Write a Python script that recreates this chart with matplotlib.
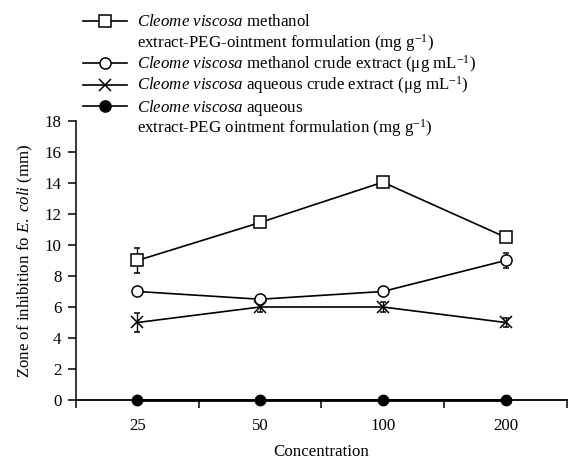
import matplotlib
matplotlib.use("Agg")
import matplotlib.pyplot as plt
from matplotlib.lines import Line2D

plt.rcParams['font.family'] = ['Liberation Serif', 'DejaVu Serif']
plt.rcParams['mathtext.fontset'] = 'custom'
plt.rcParams['mathtext.rm'] = 'Liberation Serif'
plt.rcParams['mathtext.it'] = 'Liberation Serif:italic'
plt.rcParams['font.size'] = 12.2

# data
concentrations = ["25", "50", "100", "200"]
methanol_peg = [9.0, 11.45, 14.05, 10.5]
methanol_peg_err = [0.8, 0.0, 0.0, 0.15]
methanol_crude = [7.0, 6.5, 7.0, 9.0]
methanol_crude_err = [0.0, 0.0, 0.0, 0.5]
aqueous_crude = [5.0, 6.0, 6.0, 5.0]
aqueous_crude_err = [0.6, 0.3, 0.3, 0.3]
aqueous_peg = [0.0, 0.0, 0.0, 0.0]

cv = r"$\it{Cleome\ viscosa}$"
legend_rows = [
    cv + " methanol",
    "extract-PEG-ointment formulation (mg g$^{-1}$)",
    cv + " methanol crude extract (\u03bcg mL$^{-1}$)",
    cv + " aqueous crude extract (\u03bcg mL$^{-1}$)",
    cv + " aqueous",
    "extract-PEG ointment formulation (mg g$^{-1}$)",
]
# marker style per legend row (None = continuation line)
legend_markers = [('s', 'white'), None, ('o', 'white'), ('x', 'black'),
                  ('o', 'black'), None]

W, H = 568, 459
fig = plt.figure(figsize=(W / 100, H / 100), dpi=100)
ax = fig.add_axes([0.134, 0.1285, 0.864, 0.608])
x = list(range(len(concentrations)))

common = dict(color='black', linewidth=1.2, capsize=2.5, elinewidth=1.0,
              markersize=8, markeredgewidth=1.1, clip_on=False)
ax.errorbar(x, methanol_peg, yerr=methanol_peg_err, marker='s',
            markerfacecolor='white', **common)
ax.errorbar(x, methanol_crude, yerr=methanol_crude_err, marker='o',
            markerfacecolor='white', **common)
ax.errorbar(x, aqueous_crude, yerr=aqueous_crude_err, marker='x', **common)
ax.plot(x, aqueous_peg, color='black', linewidth=2, marker='o',
        markersize=7.5, clip_on=False, zorder=5)

ax.set_xlim(-0.5, 3.5)
ax.set_ylim(0, 18)
ax.set_yticks(range(0, 19, 2))
ax.set_xticks([-0.5, 0.5, 1.5, 2.5, 3.5])
ax.set_xticklabels([])
ax.set_xticks(x, minor=True)
ax.set_xticklabels(concentrations, minor=True)
ax.tick_params(axis='x', which='minor', length=0, pad=13)
ax.tick_params(axis='both', which='major', direction='out', length=5.5,
               width=1.1)
ax.tick_params(axis='y', pad=5)
ax.spines['top'].set_visible(False)
ax.spines['right'].set_visible(False)
ax.spines['left'].set_linewidth(1.1)
ax.spines['bottom'].set_linewidth(1.3)

ax.set_xlabel("Concentration", labelpad=7)
ax.set_ylabel(r"Zone of inhibition fo $\it{E.\ coli}$ (mm)", labelpad=7)

# hand-placed legend so the handle sits on the first line of each entry
row_y0, row_step = 20.5, 21.4
for i, (text, mk) in enumerate(zip(legend_rows, legend_markers)):
    yc = 1 - (row_y0 + i * row_step) / H
    if mk is not None:
        fig.add_artist(Line2D([83 / W, 105 / W, 127 / W], [yc, yc, yc],
                              color='black', linewidth=1.2, marker=mk[0],
                              markevery=[1], markerfacecolor=mk[1],
                              markersize=8, markeredgewidth=1.1))
    fig.text(137 / W, yc - 5.5 / H, text, ha='left', va='baseline')

fig.savefig("out.png", dpi=100)
